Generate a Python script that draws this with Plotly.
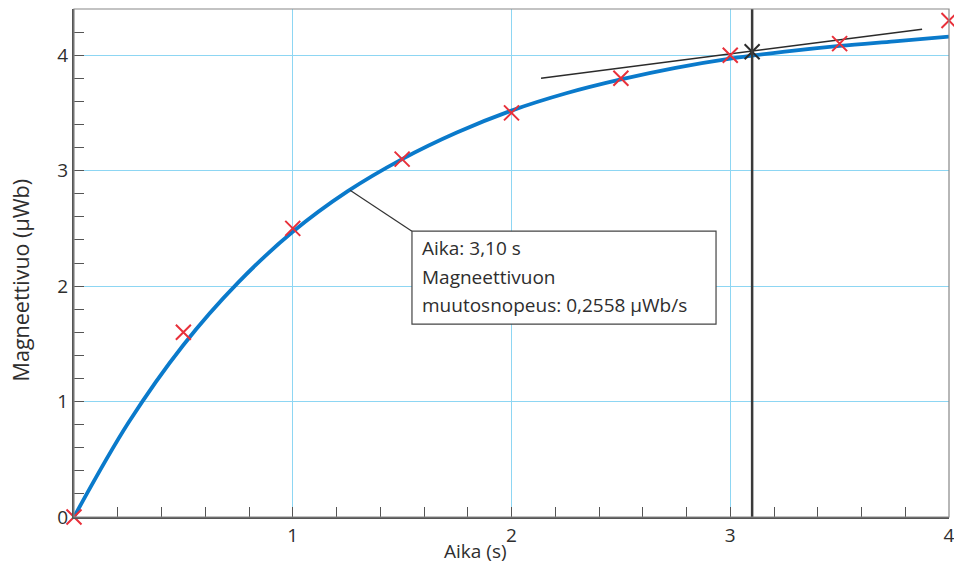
import plotly.graph_objects as go

# Measured points
t_meas = [0, 0.5, 1, 1.5, 2, 2.5, 3, 3.5, 4]
phi_meas = [0.0, 1.6, 2.5, 3.1, 3.5, 3.8, 4.0, 4.1, 4.3]

# Fitted curve
t_fit = [0, 0.25, 0.5, 0.75, 1, 1.25, 1.5, 1.75, 2, 2.25, 2.5, 2.75, 3, 3.25, 3.5, 3.75, 4]
phi_fit = [0.0, 0.82, 1.49, 2.03, 2.47, 2.82, 3.10, 3.33, 3.52, 3.67, 3.79, 3.89, 3.97, 4.03, 4.08, 4.12, 4.16]

# Tangent at t = 3.10 s
t_tan = [2.135, 3.877]
phi_tan = [3.80, 4.225]
t_point = [3.10]
phi_point = [4.03]

# Callout
callout_lines = ["Aika: 3,10 s", "Magneettivuon", "muutosnopeus: 0,2558 µWb/s"]
callout_target = (1.262, 2.83)
callout_box = (1.545, 2.476, 2.935, 1.671)

x_ticks = [1, 2, 3, 4]
y_ticks = [0, 1, 2, 3, 4]

FONT = "Open Sans"
TXT = "#2e2e2e"
GRID = "#8dd6f3"

fig = go.Figure()

fig.add_trace(go.Scatter(x=t_fit, y=phi_fit, mode="lines", line=dict(color="#0a7acb", width=3.8, shape="spline"),
                         hoverinfo="skip", cliponaxis=False))
fig.add_trace(go.Scatter(x=t_tan, y=phi_tan, mode="lines", line=dict(color="#2b2b2b", width=1.5), cliponaxis=False))
fig.add_trace(go.Scatter(x=t_meas, y=phi_meas, mode="markers",
                         marker=dict(symbol="x-thin", size=15, line=dict(color="#e8303a", width=2)),
                         cliponaxis=False))
fig.add_trace(go.Scatter(x=t_point, y=phi_point, mode="markers",
                         marker=dict(symbol="x-thin", size=15, line=dict(color="#2b2b2b", width=2)),
                         cliponaxis=False))

shapes = []
shapes.append(dict(type="line", xref="x", yref="paper", x0=t_point[0], x1=t_point[0], y0=0, y1=1,
                   line=dict(color="#3a3a3a", width=2.5)))
shapes.append(dict(type="rect", xref="paper", yref="paper", x0=0, x1=1, y0=0, y1=1,
                   line=dict(color="#888888", width=1.2), layer="above"))
x0b, y0b, x1b, y1b = callout_box
shapes.append(dict(type="line", xref="x", yref="y", x0=callout_target[0], y0=callout_target[1], x1=x0b, y1=y0b,
                   line=dict(color="#333333", width=1.2)))
shapes.append(dict(type="rect", xref="x", yref="y", x0=x0b, y0=y1b, x1=x1b, y1=y0b,
                   line=dict(color="#444444", width=1.2), fillcolor="white", layer="above"))

annotations = []
n = len(callout_lines)
for i, line in enumerate(callout_lines):
    yy = y0b - (y0b - y1b) * (i + 0.6) / (n + 0.25)
    annotations.append(dict(x=x0b + 0.035, y=yy, xref="x", yref="y", text=line, showarrow=False,
                            xanchor="left", yanchor="middle", font=dict(family=FONT, size=19, color=TXT)))
annotations.append(dict(x=0.459, y=-0.067, xref="paper", yref="paper", text="Aika (s)", showarrow=False,
                        xanchor="center", yanchor="middle", font=dict(family=FONT, size=19, color=TXT)))
annotations.append(dict(x=-0.061, y=0.465, xref="paper", yref="paper", text="Magneettivuo (µWb)", showarrow=False,
                        textangle=-90, xanchor="center", yanchor="middle", font=dict(family=FONT, size=21.5, color=TXT)))

fig.update_layout(
    width=954, height=563,
    margin=dict(l=74, r=5, t=9, b=46, autoexpand=False),
    paper_bgcolor="white", plot_bgcolor="white",
    showlegend=False,
    shapes=shapes, annotations=annotations,
    font=dict(family=FONT, size=19, color=TXT),
)
fig.update_xaxes(range=[0, 4], tickvals=x_ticks, ticktext=[str(v) for v in x_ticks],
                 showgrid=True, gridcolor=GRID, gridwidth=1, zeroline=False,
                 showline=True, linecolor="#555555", linewidth=2,
                 ticks="inside", ticklen=10, tickcolor="#555555", tickwidth=1.2,
                 ticklabeloverflow="allow",
                 minor=dict(dtick=0.2, ticks="inside", ticklen=10, tickcolor="#555555", tickwidth=1.2, showgrid=False),
                 tickfont=dict(family=FONT, size=19, color=TXT))
fig.update_yaxes(range=[0, 4.4], tickvals=y_ticks, ticktext=[str(v) for v in y_ticks],
                 showgrid=True, gridcolor=GRID, gridwidth=1, zeroline=False,
                 showline=True, linecolor="#555555", linewidth=2,
                 ticks="inside", ticklen=10, tickcolor="#555555", tickwidth=1.2,
                 ticklabeloverflow="allow",
                 minor=dict(dtick=0.2, ticks="inside", ticklen=10, tickcolor="#555555", tickwidth=1.2, showgrid=False),
                 tickfont=dict(family=FONT, size=19, color=TXT))

fig.write_html("out.html", config={"displayModeBar": False},
               post_script="document.body.style.margin='0px';document.body.style.padding='0px';")
